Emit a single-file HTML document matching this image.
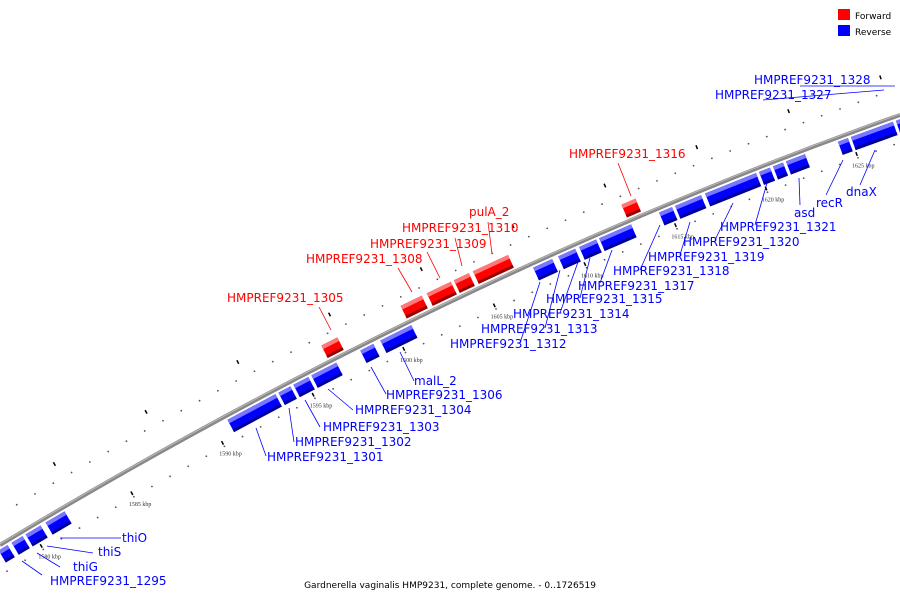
<!DOCTYPE html>
<html><head><meta charset="utf-8"><style>
body{margin:0;background:#fff}
svg{display:block;font-family:"DejaVu Sans","Liberation Sans",sans-serif}
</style></head><body>
<svg id="c" width="900" height="600">
<g id="ticks"></g>
<path d="M0,545 Q450,274 900,115" fill="none" stroke="#888" stroke-width="4"/>
<path d="M0,544 Q450,273 900,114" fill="none" stroke="#bbb" stroke-width="1"/>
<g id="genes"></g>
<g id="labels" font-size="12"></g>
<rect x="838" y="9" width="12" height="11" fill="#f00"/>
<text x="855" y="19" font-size="9">Forward</text>
<rect x="838" y="25" width="12" height="11" fill="#00f"/>
<text x="855" y="35" font-size="9">Reverse</text>
<text x="450" y="588" font-size="9" text-anchor="middle">Gardnerella vaginalis HMP9231, complete genome. - 0..1726519</text>
</svg>
<script>
const fwdStart=[328,407,433,460,479,627];
const fwdEnd=[347,431,460,478,517,644];
const revStart=[-5,8,22,42,224,275,290,308,357,377,530,555,576,596,656,672,702,756,770,783,835,848,893];
const revEnd=[7,22,40,64,275,290,308,336,373,411,552,575,596,631,672,701,756,770,783,805,848,893,905];
const tickKbp=[1580,1585,1590,1595,1600,1605,1610,1615,1620,1625];
const labelText=["HMPREF9231_1305","HMPREF9231_1308","HMPREF9231_1309","HMPREF9231_1310","pulA_2","HMPREF9231_1316",
"HMPREF9231_1295","thiG","thiS","thiO","HMPREF9231_1301","HMPREF9231_1302","HMPREF9231_1303","HMPREF9231_1304","HMPREF9231_1306","malL_2",
"HMPREF9231_1312","HMPREF9231_1313","HMPREF9231_1314","HMPREF9231_1315","HMPREF9231_1317","HMPREF9231_1318","HMPREF9231_1319","HMPREF9231_1320","HMPREF9231_1321","asd","recR","dnaX","HMPREF9231_1328","HMPREF9231_1327"];
const labelStrand=["f","f","f","f","f","f","r","r","r","r","r","r","r","r","r","r","r","r","r","r","r","r","r","r","r","r","r","r","r","r"];
const labelXY=[[227,302],[306,263],[370,248],[402,232],[469,216],[569,158],[50,585],[73,571],[98,556],[122,542],[267,461],[295,446],[323,431],[355,414],[386,399],[414,385],[450,348],[481,333],[513,318],[546,303],[578,290],[613,275],[648,261],[683,246],[720,231],[794,217],[816,207],[846,196],[754,84],[715,99]];
const leader=[[319,307,331,330],[398,268,412,292],[427,252,440,278],[455,238,462,266],[488,222,492,254],[618,163,631,196],
[42,575,22,561],[60,567,37,553],[93,553,47,546],[121,538,60,538],[266,456,256,428],[294,442,289,408],[320,427,305,400],[353,410,328,389],[386,394,371,367],[414,381,400,352],
[520,343,540,282],[545,328,560,270],[560,313,578,262],[580,298,590,258],[600,283,612,250],[640,270,660,225],[680,255,690,222],[715,240,733,203],[755,225,767,183],[800,205,799,178],[826,195,843,160],[860,185,875,150],[800,86,895,86],[763,100,884,90]];
const NS="http://www.w3.org/2000/svg";
function curve(x){const t=x/900;const y=(1-t)*(1-t)*545+2*t*(1-t)*274+t*t*115;
 const dy=2*(1-t)*(274-545)+2*t*(115-274);const dx=900;const L=Math.hypot(dx,dy);
 return {x:x,y:y,tx:dx/L,ty:dy/L,nx:-dy/L,ny:dx/L};}
const kbpPx=91/5;function kx(k){return 30+(k-1580)*kbpPx;}
function el(tag,attrs,parent){const e=document.createElementNS(NS,tag);for(const k in attrs)e.setAttribute(k,attrs[k]);parent.appendChild(e);return e;}
const tg=document.getElementById('ticks');
for(let k=1578;k<=1627;k++){const p=curve(kx(k));
 for(const s of [-1,1]){const d=el('circle',{cx:p.x+p.nx*26*s,cy:p.y+p.ny*26*s,r:0.9,fill:'#555'},tg);
 
 }}
for(let i=0;i<tickKbp.length;i++){const k=tickKbp[i];const p=curve(kx(k));
 const a=el('line',{x1:p.x+p.nx*20,y1:p.y+p.ny*20,x2:p.x+p.nx*24,y2:p.y+p.ny*24,stroke:'#000','stroke-width':1.5},tg);
 
 
 const q=curve(kx(k+2.5));
 const b=el('line',{x1:q.x-q.nx*40,y1:q.y-q.ny*40,x2:q.x-q.nx*44,y2:q.y-q.ny*44,stroke:'#000','stroke-width':1.5},tg);
 
 
 const t=el('text',{x:p.x+p.nx*32-8,y:p.y+p.ny*32+4,'font-size':6,'font-family':'Liberation Serif,serif',fill:'#333'},tg);
 t.textContent=k+' kbp';
 
 }
const gg=document.getElementById('genes');
function gene(x0,x1,dir,i){const a=curve(x0+1.5),b=curve(x1-1.5);const s=dir=='f'?-1:1;
 const o1=4,o2=18;const col=dir=='f'?'#f00':'#00f',light=dir=='f'?'#f77':'#77f',dark=dir=='f'?'#900':'#009';
 const P=(p,o)=>(p.x+p.nx*o*s)+','+(p.y+p.ny*o*s);
 const g=el('g',{},gg);
 
 
 el('polygon',{points:[P(a,o1),P(b,o1),P(b,o2),P(a,o2)].join(' '),fill:col},g);
 const ot=dir=='f'?o2:o1, oi=dir=='f'?o2-4:o1+4;
 el('polygon',{points:[P(a,ot),P(b,ot),P(b,oi),P(a,oi)].join(' '),fill:light},g);
 const ob=dir=='f'?o1:o2, obi=dir=='f'?o1+3:o2-3;
 el('polygon',{points:[P(a,ob),P(b,ob),P(b,obi),P(a,obi)].join(' '),fill:dark},g);}
for(let i=0;i<fwdStart.length;i++)gene(fwdStart[i],fwdEnd[i],'f',i);
for(let i=0;i<revStart.length;i++)gene(revStart[i],revEnd[i],'r',i);
const lg=document.getElementById('labels');
for(let i=0;i<labelText.length;i++){const c=labelStrand[i]=='f'?'#f00':'#00f';const L=leader[i];
 const ln=el('line',{x1:L[0],y1:L[1],x2:L[2],y2:L[3],stroke:c,'stroke-width':0.8},lg);
 
 
 const t=el('text',{x:labelXY[i][0],y:labelXY[i][1],fill:c},lg);t.textContent=labelText[i];
 
 }
</script>
</body></html>
